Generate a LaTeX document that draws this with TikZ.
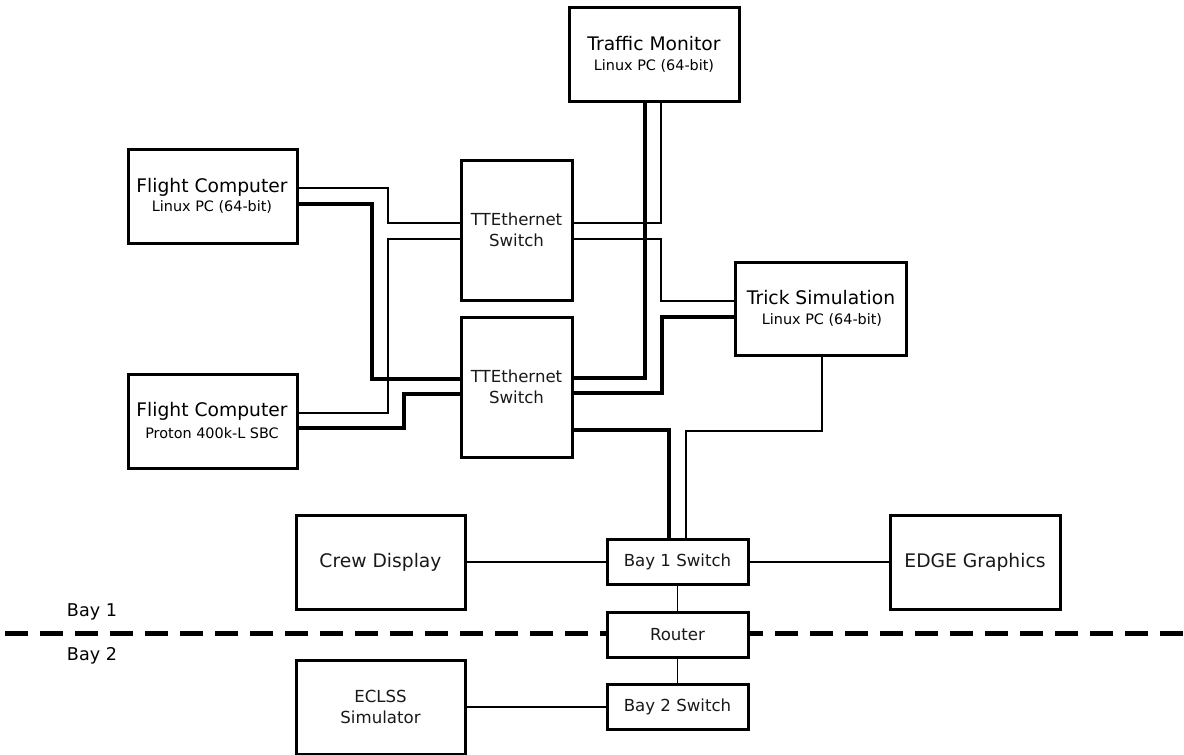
\documentclass[tikz,border=0pt]{standalone}
\usepackage{fontspec}
\setmainfont{DejaVu Sans}
\begin{document}
\begin{tikzpicture}[x=1pt,y=-1pt,
  box/.style={draw=black,line width=3pt,fill=white,inner sep=0pt,align=center,text=black!90},
  big/.style={font=\fontsize{18.7}{22}\selectfont},
  mid/.style={font=\fontsize{16.6}{21}\selectfont},
  baylbl/.style={font=\fontsize{17.6}{21}\selectfont},
  small/.style={font=\fontsize{14.4}{17}\selectfont},
  thinw/.style={line width=1.6pt},
  thickw/.style={line width=4.5pt},
  divider/.style={line width=5pt,dash pattern=on 23pt off 12pt}
]
\useasboundingbox (0,0) rectangle (1184,755);
% divider between bays
\draw[divider] (5,633) -- (1184,633);
\node[baylbl] (bay1) at (92,612) {Bay 1};
\node[baylbl] (bay2) at (92,656) {Bay 2};

% boxes
\node[box,minimum width=170,minimum height=94] (tm) at (654,54) {};
\node[big] (tmt) at (654,44) {Traffic Monitor};
\node[small] (tms) at (654,66) {Linux PC (64-bit)};

\node[box,minimum width=169,minimum height=94] (fc1) at (212.5,196) {};
\node[big] (fc1t) at (212,187) {Flight Computer};
\node[small] (fc1s) at (212,207) {Linux PC (64-bit)};

\node[box,mid,minimum width=111,minimum height=140] (sw1) at (516.5,230) {TTEthernet\\Switch};
\node[box,mid,minimum width=111,minimum height=140] (sw2) at (516.5,387) {TTEthernet\\Switch};

\node[box,minimum width=171,minimum height=93] (trick) at (820.5,308.5) {};
\node[big] (trt) at (821,298) {Trick Simulation};
\node[small] (trs) at (822,320) {Linux PC (64-bit)};

\node[box,minimum width=169,minimum height=94] (fc2) at (212.5,421) {};
\node[big] (fc2t) at (212,411) {Flight Computer};
\node[small] (fc2s) at (212,433) {Proton 400k-L SBC};

\node[box,big,minimum width=169,minimum height=94] (crew) at (380.5,562) {Crew Display};
\node[box,mid,minimum width=141,minimum height=45] (b1) at (677.5,562) {Bay 1 Switch};
\node[box,big,minimum width=170,minimum height=94] (edge) at (975,562) {EDGE Graphics};
\node[box,mid,minimum width=141,minimum height=45] (router) at (677.5,634.5) {Router};
\node[box,mid,minimum width=169,minimum height=94] (eclss) at (380.5,707) {ECLSS\\Simulator};
\node[box,mid,minimum width=141,minimum height=45] (b2) at (677.5,707) {Bay 2 Switch};

% connectors: flight computers to switches
\draw[thinw] (fc1.east |- 0,188) -- (388,188) -- (388,223) -- (sw1.west |- 0,223);
\draw[thickw] (fc1.east |- 0,204) -- (372,204) -- (372,379) -- (sw2.west |- 0,379);
\draw[thinw] (fc2.east |- 0,413) -- (388,413) -- (388,239) -- (sw1.west |- 0,239);
\draw[thickw] (fc2.east |- 0,428) -- (404,428) -- (404,394) -- (sw2.west |- 0,394);

% traffic monitor
\draw[thickw] (tm.south -| 645,0) -- (645,378) -- (sw2.east |- 0,378);
\draw[thinw] (tm.south -| 661,0) -- (661,223) -- (sw1.east |- 0,223);

% trick simulation
\draw[thinw] (sw1.east |- 0,239) -- (661,239) -- (661,301) -- (trick.west |- 0,301);
\draw[thickw] (sw2.east |- 0,393) -- (662,393) -- (662,317) -- (trick.west |- 0,317);

% to bay 1 switch
\draw[thickw] (sw2.east |- 0,430) -- (669,430) -- (b1.north -| 669,0);
\draw[thinw] (trick.south -| 822,0) -- (822,431) -- (686,431) -- (b1.north -| 686,0);

% horizontal links
\draw[thinw] (crew.east) -- (b1.west);
\draw[thinw] (b1.east) -- (edge.west);
\draw[thinw] (b1.south) -- (router.north);
\draw[thinw] (router.south) -- (b2.north);
\draw[thinw] (eclss.east) -- (b2.west);
\end{tikzpicture}
\end{document}
